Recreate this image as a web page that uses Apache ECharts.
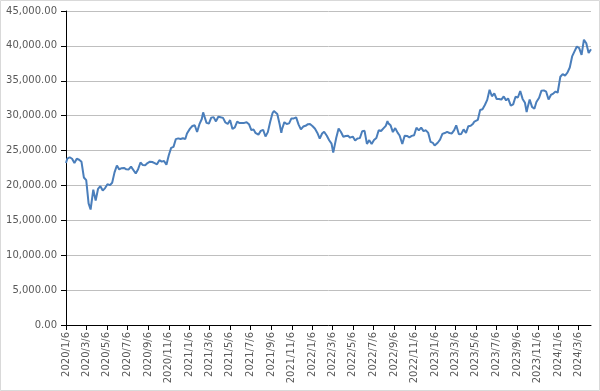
<!DOCTYPE html>
<html>
<head>
<meta charset="utf-8">
<script src="https://cdn.jsdelivr.net/npm/echarts@6/dist/echarts.min.js"></script>
<style>
html,body{margin:0;padding:0;background:#fff;}
#c{width:600px;height:391px;}
</style>
</head>
<body>
<div id="c"></div>
<script>
const dates = [
'2020/1/6','2020/1/10','2020/1/17','2020/1/24','2020/1/31','2020/2/7','2020/2/14','2020/2/21','2020/2/28',
'2020/3/6','2020/3/13','2020/3/19','2020/3/27','2020/4/3','2020/4/10','2020/4/17','2020/4/24','2020/5/1',
'2020/5/8','2020/5/15','2020/5/22','2020/5/29','2020/6/5','2020/6/12','2020/6/19','2020/6/26','2020/7/3',
'2020/7/10','2020/7/17','2020/7/22','2020/7/31','2020/8/7','2020/8/14','2020/8/21','2020/8/28','2020/9/4',
'2020/9/11','2020/9/18','2020/9/25','2020/10/2','2020/10/9','2020/10/16','2020/10/23','2020/10/30','2020/11/6',
'2020/11/13','2020/11/20','2020/11/27','2020/12/4','2020/12/11','2020/12/18','2020/12/25','2020/12/30',
'2021/1/8','2021/1/15','2021/1/22','2021/1/29','2021/2/5','2021/2/12','2021/2/16','2021/2/19','2021/2/26',
'2021/3/5','2021/3/12','2021/3/19','2021/3/26','2021/4/2','2021/4/9','2021/4/16','2021/4/23','2021/4/30',
'2021/5/7','2021/5/14','2021/5/21','2021/5/28','2021/6/4','2021/6/11','2021/6/18','2021/6/25','2021/7/2',
'2021/7/9','2021/7/16','2021/7/21','2021/7/30','2021/8/6','2021/8/13','2021/8/20','2021/8/27','2021/9/3',
'2021/9/10','2021/9/14','2021/9/17','2021/9/24','2021/10/1','2021/10/6','2021/10/8','2021/10/15','2021/10/22',
'2021/10/29','2021/11/5','2021/11/12','2021/11/19','2021/11/26','2021/12/3','2021/12/10','2021/12/17','2021/12/24',
'2021/12/30',
'2022/1/7','2022/1/14','2022/1/21','2022/1/28','2022/2/4','2022/2/10','2022/2/18','2022/2/25','2022/3/4',
'2022/3/9','2022/3/11','2022/3/18','2022/3/25','2022/4/1','2022/4/8','2022/4/15','2022/4/22','2022/4/28',
'2022/5/6','2022/5/13','2022/5/20','2022/5/27','2022/6/3','2022/6/10','2022/6/17','2022/6/24','2022/7/1',
'2022/7/8','2022/7/15','2022/7/22','2022/7/29','2022/8/5','2022/8/12','2022/8/17','2022/8/19','2022/8/26',
'2022/9/2','2022/9/9','2022/9/16','2022/9/22','2022/9/30','2022/10/7','2022/10/14','2022/10/21','2022/10/28',
'2022/11/4','2022/11/11','2022/11/18','2022/11/25','2022/12/2','2022/12/9','2022/12/16','2022/12/23','2022/12/30',
'2023/1/4','2023/1/6','2023/1/13','2023/1/20','2023/1/27','2023/2/3','2023/2/10','2023/2/17','2023/2/24',
'2023/3/3','2023/3/9','2023/3/17','2023/3/24','2023/3/31','2023/4/7','2023/4/14','2023/4/21','2023/4/28',
'2023/5/2','2023/5/12','2023/5/19','2023/5/26','2023/6/2','2023/6/9','2023/6/16','2023/6/23','2023/6/30',
'2023/7/7','2023/7/14','2023/7/21','2023/7/28','2023/8/4','2023/8/10','2023/8/18','2023/8/25','2023/9/1',
'2023/9/8','2023/9/15','2023/9/22','2023/9/29','2023/10/4','2023/10/6','2023/10/13','2023/10/20','2023/10/27',
'2023/11/2','2023/11/10','2023/11/17','2023/11/24','2023/12/1','2023/12/8','2023/12/15','2023/12/22','2023/12/29',
'2024/1/4','2024/1/5','2024/1/12','2024/1/19','2024/1/26','2024/2/2','2024/2/9','2024/2/16','2024/2/22',
'2024/3/1','2024/3/8','2024/3/15','2024/3/22','2024/3/29','2024/4/5','2024/4/12'
];
const values = [
23204,23851,24041,23827,23205,23827,23687,23386,21142,
20749,17431,16552,19389,17820,19498,19897,19262,19619,
20179,20037,20388,21877,22863,22305,22478,22512,22306,
22290,22696,22751,21710,22329,23289,22920,22882,23205,
23406,23360,23204,23029,23619,23410,23516,22977,24325,
25385,25527,26644,26751,26652,26763,26656,27444,
28139,28519,28631,27663,28779,29520,30467,30018,28966,
28864,29717,29792,29176,29854,29768,29683,29020,28812,
29358,28084,28317,29149,28941,28948,28964,29066,28783,
27940,28003,27548,27283,27820,27977,27013,27641,29128,
30382,30670,30500,30249,28771,27528,28049,29069,28804,
28893,29611,29610,29745,28752,28030,28437,28546,28782,
28792,
28479,28124,27522,26717,27440,27696,27122,26476,25985,
24717,25163,26827,28149,27666,26985,27093,27105,26848,
27003,26427,26739,26782,27761,27824,25963,26491,25935,
26517,26788,27914,27801,28176,28547,29222,28930,28641,
27650,28214,27567,27153,25937,27116,27090,26890,27105,
27199,28263,27899,28283,27777,27901,27527,26235,26094,
25717,25973,26119,26553,27382,27509,27670,27513,27453,
27927,28623,27333,27385,28041,27518,28493,28564,28856,
29157,29388,30808,30916,31524,32265,33706,32781,33189,
32388,32391,32304,32759,32192,32473,31450,31624,32710,
32606,33533,32402,31857,30526,30994,32315,31259,30991,
31949,32568,33585,33625,33431,32307,32970,33169,33464,
33288,33377,35577,35963,35751,36158,36897,38487,39098,
39910,39688,38707,40888,40369,38992,39523
];
const tickLabels = [
'2020/1/6','2020/3/6','2020/5/6','2020/7/6','2020/9/6','2020/11/6',
'2021/1/6','2021/3/6','2021/5/6','2021/7/6','2021/9/6','2021/11/6',
'2022/1/6','2022/3/6','2022/5/6','2022/7/6','2022/9/6','2022/11/6',
'2023/1/6','2023/3/6','2023/5/6','2023/7/6','2023/9/6','2023/11/6',
'2024/1/6','2024/3/6'
];

// day number (UTC based, so no DST issues)
function toDay(s){ const p = s.split('/').map(Number); return Date.UTC(p[0], p[1]-1, p[2]) / 86400000; }
const seriesData = dates.map((d,i)=>[toDay(d), values[i]]);
const tickDays = tickLabels.map(toDay);
function fmtNum(v){
  const s = Math.round(v).toString().replace(/\B(?=(\d{3})+(?!\d))/g, ',');
  return s + '.00';
}
const labelFont = {color:'#595959', fontSize:10, fontFamily:'DejaVu Sans'};
const chart = echarts.init(document.getElementById('c'), null, {renderer:'canvas'});
chart.setOption({
  animation:false,
  backgroundColor:'#ffffff',
  graphic:[{type:'rect', shape:{x:0.5,y:0.5,width:599,height:390}, style:{fill:'none', stroke:'#d9d9d9', lineWidth:1}, silent:true}],
  grid:{left:66, right:9, top:11, bottom:66},
  xAxis:{
    type:'value',
    min: toDay(dates[0]),
    max: toDay(dates[dates.length-1]),
    axisLine:{show:true, onZero:false, lineStyle:{color:'#000', width:1}},
    axisTick:{show:true, length:5, inside:false, lineStyle:{color:'#000'}, customValues: tickDays},
    axisLabel:Object.assign({
      rotate:90, margin:7, customValues: tickDays, showMinLabel:true, showMaxLabel:true,
      formatter: function(v){ const i = tickDays.indexOf(v); return i>=0 ? tickLabels[i] : ''; }
    }, labelFont),
    splitLine:{show:false}
  },
  yAxis:{
    type:'value', min:0, max:45000, interval:5000,
    axisLine:{show:true, lineStyle:{color:'#000', width:1}},
    axisTick:{show:true, length:5, lineStyle:{color:'#000'}},
    axisLabel:Object.assign({margin:9, formatter: fmtNum}, labelFont),
    splitLine:{show:true, lineStyle:{color:'#bfbfbf', width:1}}
  },
  series:[{
    type:'line', data: seriesData, showSymbol:false, symbol:'none',
    lineStyle:{color:'#4a7ebb', width:2}, itemStyle:{color:'#4a7ebb'}
  }]
});
</script>
</body>
</html>
